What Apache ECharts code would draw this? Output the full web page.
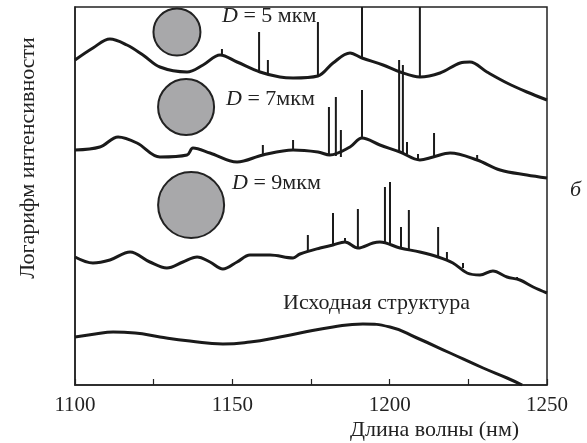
<!DOCTYPE html>
<html><head><meta charset="utf-8">
<script src="https://cdn.jsdelivr.net/npm/echarts@6/dist/echarts.min.js"></script>
<style>html,body{margin:0;padding:0;background:#fff}#c{width:587px;height:443px}</style>
</head><body><div id="c"></div>
<script>
// wavelength (nm) -> log intensity (arbitrary units, curves offset vertically)
const curveD5 = [[1100,325],[1105.7,337],[1111.1,346],[1116.5,340],[1121.6,330],[1127.0,318],[1135.6,313],[1140.7,320],[1146.1,330],[1151.5,323],[1158.8,313],[1165.1,308],[1169.3,307],[1177.2,309],[1182.0,322],[1187.4,332],[1191.2,327],[1197.9,320],[1203.3,313],[1209.6,308],[1216.0,312],[1222.4,322],[1225.5,323],[1230.9,313],[1237.3,302],[1243.6,293],[1250,285]];
const curveD7 = [[1100,235],[1107.9,238],[1113.7,248],[1119.7,242],[1127.0,228],[1135.6,230],[1137.5,237],[1142.9,232],[1151.5,223],[1159.7,230],[1169.3,235],[1177.2,233],[1181.0,230],[1187.4,238],[1191.2,247],[1196.9,240],[1203.3,233],[1209.6,225],[1213.8,228],[1219.2,232],[1227.8,225],[1235.1,215],[1243.6,210],[1250,207]];
const curveD9 = [[1100,128],[1105.7,122],[1111.1,125],[1117.5,133],[1123.8,123],[1129.2,117],[1134.3,123],[1138.8,128],[1142.9,123],[1147.0,116],[1151.5,123],[1155.6,130],[1162.0,130],[1169.3,127],[1171.5,131],[1177.9,137],[1182.0,140],[1185.8,143],[1189.9,137],[1194.7,142],[1196.9,143],[1203.3,137],[1209.6,133],[1215.4,128],[1220.1,122],[1224.6,112],[1228.7,110],[1232.8,114],[1237.3,108],[1241.4,105],[1245.6,98],[1250,92]];
const curveInitial = [[1100,48],[1106.4,51],[1112.1,53],[1119.1,52],[1127.0,48],[1136.5,44],[1147.0,41],[1155.6,43],[1165.1,48],[1171.5,52],[1182.0,58],[1191.5,61],[1200.1,58],[1208.7,47],[1219.2,32],[1229.7,17],[1237.3,7],[1242.1,0]];
// spikes: [nm, base, peak]
const spikesD5 = [[1146.7,330,336],[1158.5,313,353],[1161.3,311,325],[1177.2,309,363],[1191.2,327,378],[1209.6,308,378]];
const spikesD7 = [[1159.7,230,240],[1169.3,235,245],[1180.7,230,278],[1182.9,229,288],[1184.5,228,255],[1191.2,247,295],[1203.0,233,325],[1204.2,232,320],[1205.5,231,243],[1209.0,226,231],[1214.1,228,252],[1227.8,225,230]];
const spikesD9 = [[1174.0,134,150],[1182.0,140,172],[1185.8,143,147],[1189.9,137,176],[1198.5,141,198],[1200.1,140,203],[1203.6,137,158],[1206.1,135,175],[1215.4,128,158],[1218.2,126,133],[1223.3,117,122],[1240.5,106,108]];
// particle illustrations: [nm, value]
const particles = [[1132.4,353],[1135.3,278],[1136.9,180]];
const particleD = [5,7,9];
const xTicks = [1100,1150,1200,1250];

const FONT = '"Liberation Serif","Times New Roman",serif';
const FS = 22;
const INK = '#1a1a1a';
const chart = echarts.init(document.getElementById('c'));

function lineSeries(data){
  return {type:'line', data:data, showSymbol:false, smooth:0.35, z:3,
    lineStyle:{color:INK,width:3}, itemStyle:{color:INK}};
}
function spikeSeries(data){
  return {type:'custom', data:data, z:4, encode:{x:0,y:[1,2]},
    renderItem:function(p,api){
      const a=api.coord([api.value(0),api.value(1)]);
      const b=api.coord([api.value(0),api.value(2)]);
      return {type:'line',shape:{x1:a[0],y1:a[1],x2:b[0],y2:b[1]},style:{stroke:INK,lineWidth:2}};
    }};
}
const sizes = [47,56,66];
const rich = {i:{fontStyle:'italic',fontFamily:FONT,fontSize:FS,fill:'#222'}};

chart.setOption({
  animation:false,
  backgroundColor:'#fff',
  grid:{left:75,right:40,top:7,bottom:58,show:true,borderColor:'#222',borderWidth:1.5},
  xAxis:{type:'value',min:1100,max:1250,interval:25,
    axisLine:{show:true,lineStyle:{color:'#222',width:1.5}},
    axisTick:{show:true,inside:true,length:6,lineStyle:{color:'#222',width:1.2}},
    splitLine:{show:false},
    axisLabel:{margin:10,fontFamily:FONT,fontSize:21,color:'#222',
      formatter:function(v){return xTicks.indexOf(v)>=0?String(v):'';}}},
  yAxis:{type:'value',min:0,max:378,
    axisLine:{show:true,lineStyle:{color:'#222',width:1.5}},
    axisTick:{show:false},axisLabel:{show:false},splitLine:{show:false}},
  series:[
    lineSeries(curveD5),lineSeries(curveD7),lineSeries(curveD9),
    Object.assign(lineSeries(curveInitial),{smooth:0.5}),
    spikeSeries(spikesD5),spikeSeries(spikesD7),spikeSeries(spikesD9),
    {type:'scatter',z:5,data:particles.map(function(p,i){return {value:p,symbolSize:sizes[i],name:'D='+particleD[i]};}),
      itemStyle:{color:'#a8a8aa',borderColor:'#222',borderWidth:2,opacity:1}}
  ],
  graphic:[
    {type:'text',left:222,top:5,style:{text:'{i|D} = 5 мкм',font:FS+'px '+FONT,fill:'#222',rich:rich}},
    {type:'text',left:226,top:88,style:{text:'{i|D} = 7мкм',font:FS+'px '+FONT,fill:'#222',rich:rich}},
    {type:'text',left:232,top:172,style:{text:'{i|D} = 9мкм',font:FS+'px '+FONT,fill:'#222',rich:rich}},
    {type:'text',left:283,top:292,style:{text:'Исходная структура',font:FS+'px '+FONT,fill:'#222'}},
    {type:'text',left:350,top:419,style:{text:'Длина волны (нм)',font:FS+'px '+FONT,fill:'#222'}},
    {type:'text',left:570,top:179,style:{text:'б',font:'italic '+FS+'px '+FONT,fill:'#222'}},
    {type:'text',x:28,y:158,rotation:Math.PI/2,style:{text:'Логарифм интенсивности',font:FS+'px '+FONT,fill:'#222',align:'center',verticalAlign:'middle'}}
  ]
});
</script></body></html>
